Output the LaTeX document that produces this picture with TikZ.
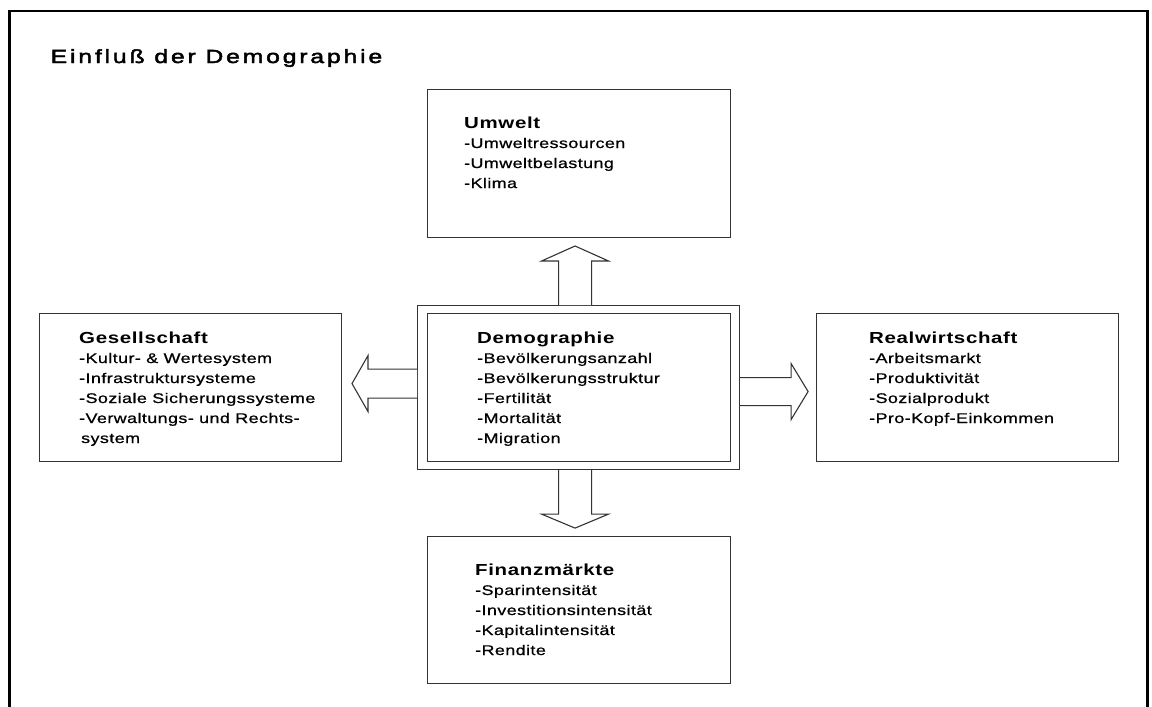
\documentclass[tikz,border=0pt]{standalone}
\usepackage{fontspec}
\setmainfont{Liberation Sans}
\newfontfamily\titlefont{Liberation Sans}[FakeStretch=1.3,LetterSpace=15,FakeBold=2.5]
\newfontfamily\listfont{Liberation Sans}[FakeStretch=1.28,LetterSpace=3,FakeBold=0.8]
\newfontfamily\headfont{Liberation Sans}[FakeStretch=1.28,LetterSpace=4]
\usetikzlibrary{calc}

% one heading line (bold) followed by the list lines of a panel
\newcommand\panelhead[1]{\hbox{\headfont\bfseries\fontsize{16}{20}\selectfont #1}}
\newcommand\paneltext[2]{\vtop{\baselineskip=20pt\lineskiplimit=-10pt\panelhead{#1}#2}}

\tikzset{
  panel/.style={draw=black!80, line width=1.1pt, fill=white, inner sep=0pt,
    anchor=north west},
  framing/.style={line width=2.6pt, black},
  blockarrow/.style={draw=black!80, line width=1.1pt, fill=white, line join=miter},
  listing/.style={anchor=base west, inner sep=0pt,
    font=\listfont\fontsize{14}{20}\selectfont},
}

\begin{document}
\begin{tikzpicture}[x=1pt,y=-1pt]
\useasboundingbox (0,0) rectangle (1152,707);

% outer frame, open at the bottom
\draw[framing] (9.7,707) -- (9.7,11) -- (1147.5,11) -- (1147.5,707);

% heading
\node[anchor=base west, inner sep=0pt,
  font=\titlefont\fontsize{19}{22}\selectfont] (title) at (50.5,63)
  {Einfluß der Demographie};

% panels
\node[panel, minimum width=303pt, minimum height=148pt] (umwelt) at (427,89) {};
\node[panel, minimum width=322pt, minimum height=164pt] (demo) at (417,305) {};
\node[panel, minimum width=303pt, minimum height=148pt] (demoin) at (427,313) {};
\node[panel, minimum width=302pt, minimum height=148pt] (gesell) at (39,313) {};
\node[panel, minimum width=302pt, minimum height=148pt] (real) at (816,313) {};
\node[panel, minimum width=303pt, minimum height=147pt] (finanz) at (427,536) {};

% panel texts
\node[listing] (umweltT) at ($(umwelt.north west)+(37,39)$)
  {\paneltext{Umwelt}{\hbox{-Umweltressourcen}\hbox{-Umweltbelastung}\hbox{-Klima}}};
\node[listing] (demoT) at ($(demoin.north west)+(50,30)$)
  {\paneltext{Demographie}{\hbox{-Bevölkerungsanzahl}\hbox{-Bevölkerungsstruktur}%
   \hbox{-Fertilität}\hbox{-Mortalität}\hbox{-Migration}}};
\node[listing] (gesellT) at ($(gesell.north west)+(40,30)$)
  {\paneltext{Gesellschaft}{\hbox{-Kultur- \& Wertesystem}\hbox{-Infrastruktursysteme}%
   \hbox{-Soziale Sicherungssysteme}\hbox{-Verwaltungs- und Rechts-}%
   \hbox{\hspace{2pt}system}}};
\node[listing] (realT) at ($(real.north west)+(53,30)$)
  {\paneltext{Realwirtschaft}{\hbox{-Arbeitsmarkt}\hbox{-Produktivität}%
   \hbox{-Sozialprodukt}\hbox{-Pro-Kopf-Einkommen}}};
\node[listing] (finanzT) at ($(finanz.north west)+(48,39)$)
  {\paneltext{Finanzmärkte}{\hbox{-Sparintensität}\hbox{-Investitionsintensität}%
   \hbox{-Kapitalintensität}\hbox{-Rendite}}};

% block arrows leaving the Demographie panel
\coordinate (uptip) at ($(demo.north)+(-3.5,-59)$);
\draw[blockarrow] ($(demo.north)+(-20,0)$) -- ++(0,-44) -- ++(-17,0) -- (uptip)
  -- ++(33.5,15) -- ++(-17,0) -- ($(demo.north)+(13,0)$);

\coordinate (downtip) at ($(demo.south)+(-3.5,58)$);
\draw[blockarrow] ($(demo.south)+(-20,0)$) -- ++(0,44) -- ++(-17,0) -- (downtip)
  -- ++(33.5,-14) -- ++(-17,0) -- ($(demo.south)+(13,0)$);

\coordinate (lefttip) at ($(demo.west)+(-65,-4)$);
\draw[blockarrow] ($(demo.west)+(0,-18.5)$) -- ++(-49,0) -- ++(0,-13.5) -- (lefttip)
  -- ++(16,28) -- ++(0,-13.5) -- ($(demo.west)+(0,10.5)$);

\coordinate (righttip) at ($(demo.east)+(68,4)$);
\draw[blockarrow] ($(demo.east)+(0,-10)$) -- ++(51,0) -- ++(0,-14) -- (righttip)
  -- ++(-17,28) -- ++(0,-14) -- ($(demo.east)+(0,18)$);
\end{tikzpicture}
\end{document}
